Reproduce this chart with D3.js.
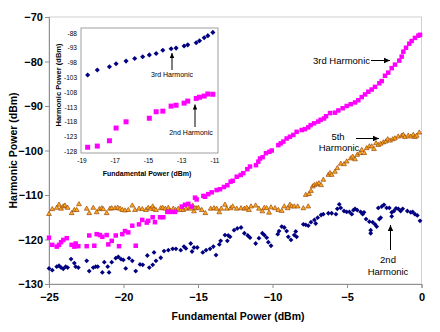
<!DOCTYPE html>
<html>
<head>
<meta charset="utf-8">
<script src="https://cdn.jsdelivr.net/npm/d3@7"></script>
<style>
  body { margin: 0; background: #fff; }
  text { font-family: "Liberation Sans", Arial, sans-serif; fill: #000; }
</style>
</head>
<body>
<div id="chart"></div>
<script>
// Main chart data: [fundamental dBm, harmonic dBm]
const secondHarmonic = [
  [-25.0,-126.5],[-24.78,-126.9],[-24.48,-126.1],[-24.33,-125.9],[-24.19,-126.3],[-24.04,-126.6],[-23.88,-126.1],[-23.75,-126.3],
  [-23.52,-124.4],[-23.30,-125.3],[-23.21,-126.1],[-23.03,-126.3],[-22.47,-124.8],[-22.30,-127.1],[-22.03,-126.3],[-21.87,-126.1],
  [-21.73,-126.1],[-21.42,-127.4],[-21.29,-125.1],[-21.06,-126.1],[-20.97,-127.4],[-20.79,-125.1],[-20.52,-124.2],[-20.35,-123.9],
  [-20.17,-124.4],[-20.01,-124.6],[-19.85,-126.5],[-19.63,-124.2],[-19.41,-124.8],[-19.18,-127.1],[-18.89,-125.6],[-18.71,-125.7],
  [-18.40,-123.6],[-18.27,-126.3],[-18.04,-125.7],[-17.95,-122.9],[-17.82,-124.8],[-17.50,-124.1],[-17.28,-122.6],[-16.99,-122.4],
  [-16.70,-122.1],[-16.48,-122.1],[-16.16,-122.4],[-15.94,-121.6],[-15.81,-122.0],[-15.49,-120.9],[-15.40,-122.7],[-15.27,-121.8],
  [-15.05,-121.8],[-14.68,-122.9],[-14.46,-122.4],[-14.19,-122.1],[-13.97,-121.6],[-13.79,-123.5],[-13.57,-121.1],[-13.48,-120.3],
  [-13.19,-119.0],[-13.03,-120.3],[-12.97,-119.1],[-12.85,-119.4],[-12.58,-117.9],[-12.36,-117.5],[-12.11,-117.3],[-11.89,-118.6],
  [-11.66,-119.1],[-11.51,-119.6],[-11.13,-120.9],[-10.91,-119.7],[-10.68,-118.6],[-10.55,-119.0],[-10.39,-119.6],[-10.28,-120.6],
  [-10.10,-121.4],[-9.65,-118.8],[-9.56,-118.1],[-9.38,-117.1],[-9.21,-117.3],[-9.05,-118.1],[-8.94,-119.4],[-8.76,-120.1],
  [-8.54,-119.0],[-8.44,-118.2],[-8.38,-119.4],[-7.93,-116.6],[-7.77,-116.7],[-7.60,-116.9],[-7.42,-116.1],[-7.19,-115.6],
  [-7.10,-116.4],[-6.97,-115.1],[-6.74,-114.5],[-6.59,-114.3],[-6.25,-114.1],[-6.03,-114.1],[-5.74,-114.3],[-5.65,-113.1],
  [-5.52,-112.1],[-5.42,-112.9],[-5.20,-113.6],[-5.02,-113.8],[-4.84,-113.8],[-4.68,-114.3],[-4.57,-113.4],[-4.46,-113.1],
  [-4.31,-113.4],[-4.08,-113.8],[-3.95,-114.3],[-3.86,-113.9],[-3.72,-115.4],[-3.50,-116.0],[-3.41,-117.9],[-3.41,-118.6],
  [-3.28,-116.1],[-3.12,-116.6],[-3.01,-117.1],[-2.83,-115.4],[-2.74,-115.1],[-2.90,-112.9],[-2.67,-112.6],[-2.52,-112.2],
  [-2.34,-112.9],[-2.16,-112.9],[-2.00,-114.8],[-2.00,-113.9],[-1.85,-113.6],[-1.71,-113.0],[-1.56,-113.1],[-1.40,-113.6],
  [-1.26,-113.1],[-0.95,-113.6],[-0.72,-113.9],[-0.59,-113.8],[-0.44,-114.3],[-0.28,-114.6],[-0.10,-115.8]
];

const thirdHarmonic = [
  [-25.0,-119.6],[-24.78,-121.2],[-24.48,-121.6],[-24.33,-121.2],[-24.19,-120.6],[-24.04,-120.1],[-23.81,-119.7],[-23.48,-121.2],
  [-23.30,-121.6],[-23.21,-120.9],[-23.03,-121.5],[-22.47,-121.5],[-22.30,-119.1],[-21.96,-121.4],[-21.80,-118.8],[-21.58,-119.0],
  [-21.42,-119.4],[-21.13,-119.0],[-21.02,-121.1],[-20.79,-120.3],[-20.52,-119.1],[-20.30,-121.5],[-20.08,-118.8],[-19.90,-118.1],
  [-19.68,-118.4],[-19.41,-116.9],[-19.18,-121.4],[-18.96,-116.6],[-18.74,-115.6],[-18.44,-116.2],[-18.34,-115.8],[-18.04,-115.0],
  [-17.89,-116.1],[-17.55,-115.0],[-17.33,-115.0],[-17.06,-113.8],[-16.83,-113.8],[-16.54,-113.8],[-16.09,-112.6],[-15.87,-112.2],
  [-15.65,-112.0],[-15.42,-112.6],[-15.20,-110.6],[-15.09,-111.0],[-14.64,-110.2],[-14.53,-110.4],[-14.31,-109.8],[-14.08,-109.4],
  [-13.75,-108.9],[-13.52,-108.7],[-13.26,-108.2],[-13.03,-107.8],[-12.81,-107.0],[-12.67,-106.8],[-12.40,-105.9],[-12.13,-105.5],
  [-11.96,-105.1],[-11.69,-104.2],[-11.51,-103.6],[-11.11,-103.3],[-10.95,-102.5],[-10.84,-101.8],[-10.66,-101.5],[-10.44,-100.6],
  [-10.21,-100.3],[-10.05,-100.0],[-9.61,-98.8],[-9.45,-98.4],[-9.27,-98.0],[-9.05,-97.3],[-8.83,-96.9],[-8.60,-96.5],
  [-8.38,-95.8],[-8.04,-95.4],[-7.82,-95.2],[-7.60,-94.8],[-7.44,-94.3],[-7.21,-93.9],[-6.93,-93.5],[-6.77,-93.1],
  [-6.54,-92.8],[-6.41,-92.3],[-6.14,-91.6],[-5.81,-91.5],[-5.58,-91.0],[-5.29,-90.5],[-5.02,-90.0],[-4.75,-89.6],
  [-4.46,-89.2],[-4.24,-88.7],[-4.01,-88.0],[-3.79,-87.4],[-3.57,-86.8],[-3.34,-86.3],[-3.12,-85.7],[-2.83,-84.9],
  [-2.67,-84.4],[-2.45,-83.2],[-2.23,-82.5],[-2.00,-81.5],[-1.78,-80.7],[-1.49,-79.8],[-1.33,-78.9],[-1.22,-77.8],
  [-1.04,-76.9],[-0.82,-76.0],[-0.66,-75.4],[-0.44,-74.7],[-0.21,-74.2],[-0.10,-74.0]
];

const fifthHarmonic = [
  [-25.0,-114.3],[-24.78,-113.2],[-24.48,-112.9],[-24.33,-112.2],[-24.19,-113.1],[-24.04,-112.6],[-23.93,-112.4],[-23.75,-112.9],
  [-23.48,-114.1],[-23.30,-113.4],[-23.14,-113.4],[-22.99,-112.1],[-22.47,-113.1],[-22.30,-114.1],[-22.03,-112.9],[-21.80,-113.9],
  [-21.62,-113.2],[-21.46,-113.0],[-21.36,-113.2],[-21.13,-114.1],[-20.91,-113.1],[-20.79,-113.0],[-20.57,-113.0],[-20.39,-112.9],
  [-20.23,-113.1],[-20.08,-113.4],[-19.90,-113.5],[-19.68,-113.4],[-19.41,-112.4],[-19.23,-113.4],[-18.96,-113.1],[-18.74,-113.2],
  [-18.49,-113.4],[-18.34,-112.9],[-18.18,-113.1],[-18.04,-112.6],[-17.95,-113.2],[-17.82,-113.4],[-17.50,-113.0],[-17.37,-112.9],
  [-17.19,-113.1],[-16.99,-112.9],[-16.88,-113.6],[-16.66,-113.1],[-16.50,-113.4],[-16.32,-113.1],[-16.16,-113.4],[-15.99,-113.4],
  [-15.81,-113.1],[-15.58,-112.9],[-15.49,-113.1],[-15.36,-112.4],[-15.27,-113.7],[-15.13,-113.0],[-14.98,-112.9],[-14.75,-113.4],
  [-14.51,-114.1],[-14.15,-113.1],[-13.93,-113.0],[-13.75,-113.1],[-13.57,-113.9],[-13.44,-113.1],[-13.19,-112.2],[-13.07,-113.1],
  [-12.81,-113.0],[-12.67,-112.6],[-12.40,-113.1],[-12.11,-113.0],[-11.89,-113.1],[-11.73,-112.9],[-11.58,-113.4],[-11.44,-112.6],
  [-11.13,-112.4],[-10.91,-113.1],[-10.68,-113.7],[-10.55,-112.9],[-10.39,-113.0],[-10.23,-114.0],[-10.10,-112.8],[-9.83,-113.0],
  [-9.61,-113.4],[-9.38,-113.6],[-9.21,-112.6],[-8.98,-113.0],[-8.83,-112.2],[-8.71,-112.6],[-8.54,-112.6],[-8.31,-112.6],
  [-7.93,-113.0],[-7.60,-112.6],[-7.77,-110.0],[-7.55,-109.8],[-7.42,-109.1],[-7.30,-108.1],[-7.19,-107.8],[-7.03,-107.6],
  [-6.88,-107.4],[-6.74,-107.8],[-6.59,-106.6],[-6.25,-105.5],[-6.14,-105.1],[-6.03,-105.5],[-5.81,-104.8],[-5.65,-104.0],
  [-5.42,-103.0],[-5.20,-103.1],[-5.02,-102.5],[-4.75,-101.8],[-4.62,-101.4],[-4.46,-102.0],[-4.31,-101.0],[-4.13,-100.6],
  [-4.01,-99.9],[-3.84,-100.6],[-3.68,-99.5],[-3.50,-99.1],[-3.34,-99.1],[-3.19,-99.7],[-3.05,-98.4],[-2.90,-98.8],
  [-2.74,-98.5],[-2.56,-98.2],[-2.40,-98.0],[-2.27,-97.5],[-2.11,-97.8],[-1.93,-97.5],[-1.78,-97.3],[-1.56,-96.9],
  [-1.33,-96.7],[-1.22,-96.5],[-1.11,-97.0],[-0.89,-96.7],[-0.72,-96.9],[-0.55,-96.5],[-0.44,-97.0],[-0.32,-96.7],[-0.15,-96.0]
];

// Inset data
const insetX = [-18.66,-18.08,-17.35,-16.95,-16.35,-15.83,-15.35,-14.95,-14.54,-14.14,-13.64,-13.34,-12.86,-12.64,-12.13,-11.93,-11.65,-11.43,-11.13];
const insetThird = [-102.1,-100.4,-99.3,-98.3,-97.4,-96.5,-95.9,-95.3,-94.8,-93.7,-93.2,-93.0,-92.3,-91.9,-91.2,-90.5,-89.5,-88.8,-87.7];
const insetSecondX = [-18.66,-18.08,-17.35,-16.95,-16.35,-14.95,-14.54,-14.14,-13.64,-13.34,-12.86,-12.64,-12.13,-11.93,-11.65,-11.43,-11.13];
const insetSecond = [-126.5,-126.1,-124.3,-120.0,-117.9,-116.7,-114.5,-114.3,-112.6,-112.3,-111.6,-110.9,-110.0,-109.6,-109.2,-108.5,-108.6];

// Tick labels
const mainXTicks = [-25, -20, -15, -10, -5, 0];
const mainYTicks = [-70, -80, -90, -100, -110, -120, -130];
const insetXTicks = [-19, -17, -15, -13, -11];
const insetYTicks = [-88, -93, -98, -103, -108, -113, -118, -123, -128];

const colors = { second: "#000080", third: "#ff00ff", fifthFill: "#ffa81a", fifthStroke: "#9a4a10" };

const W = 440, H = 332;
const svg = d3.select("#chart").append("svg").attr("width", W).attr("height", H);

// ---------- main plot ----------
const plot = { left: 49, right: 421.5, top: 17, bottom: 284 };
const x = d3.scaleLinear().domain([-25, 0]).range([plot.left, plot.right]);
const y = d3.scaleLinear().domain([-130, -70]).range([plot.bottom, plot.top]);

// plot area border
svg.append("rect")
  .attr("x", plot.left).attr("y", plot.top)
  .attr("width", plot.right - plot.left).attr("height", plot.bottom - plot.top)
  .attr("fill", "none").attr("stroke", "#d0d0d0").attr("stroke-width", 1);

const xAxis = svg.append("g")
  .attr("transform", `translate(0,${plot.bottom})`)
  .call(d3.axisBottom(x).tickValues(mainXTicks).tickSize(4).tickFormat(d3.format("d")));
const yAxis = svg.append("g")
  .attr("transform", `translate(${plot.left},0)`)
  .call(d3.axisLeft(y).tickValues(mainYTicks).tickSize(4).tickFormat(d3.format("d")));

[xAxis, yAxis].forEach(g => {
  g.select(".domain").attr("stroke", "#909090");
  g.selectAll(".tick line").attr("stroke", "#909090");
  g.selectAll("text").attr("font-size", 11).attr("font-weight", "bold")
    .attr("font-family", "Liberation Sans, Arial, sans-serif").attr("fill", "#000");
});
xAxis.selectAll("text").attr("dy", "0.95em");
yAxis.selectAll("text").attr("x", -6);

svg.append("text")
  .attr("x", 238).attr("y", 320)
  .attr("text-anchor", "middle").attr("font-size", 10.5).attr("font-weight", "bold")
  .text("Fundamental Power (dBm)");
svg.append("text")
  .attr("transform", `translate(17,${(plot.top + plot.bottom) / 2}) rotate(-90)`)
  .attr("text-anchor", "middle").attr("font-size", 10.5).attr("font-weight", "bold")
  .text("Harmonic Power (dBm)");

const diamond = s => d3.symbol().type(d3.symbolSquare).size(s * s)();
const square = s => d3.symbol().type(d3.symbolSquare).size(s * s)();
const triangle = s => d3.symbol().type(d3.symbolTriangle).size(s)();

svg.append("g").selectAll("path")
  .data(fifthHarmonic).join("path")
  .attr("d", triangle(10))
  .attr("transform", d => `translate(${x(d[0])},${y(d[1])})`)
  .attr("fill", colors.fifthFill).attr("stroke", colors.fifthStroke).attr("stroke-width", 0.7);

svg.append("g").selectAll("path")
  .data(thirdHarmonic).join("path")
  .attr("d", square(4.5))
  .attr("transform", d => `translate(${x(d[0])},${y(d[1])})`)
  .attr("fill", colors.third);

svg.append("g").selectAll("path")
  .data(secondHarmonic).join("path")
  .attr("d", diamond(3.4))
  .attr("transform", d => `translate(${x(d[0])},${y(d[1])}) rotate(45)`)
  .attr("fill", colors.second);

// main annotations
function arrow(g, x1, y1, x2, y2, head) {
  const a = Math.atan2(y2 - y1, x2 - x1);
  g.append("line").attr("x1", x1).attr("y1", y1).attr("x2", x2).attr("y2", y2)
    .attr("stroke", "#000").attr("stroke-width", 1);
  const p = [[x2, y2],
    [x2 - head * Math.cos(a) + head * 0.45 * Math.sin(a), y2 - head * Math.sin(a) - head * 0.45 * Math.cos(a)],
    [x2 - head * Math.cos(a) - head * 0.45 * Math.sin(a), y2 - head * Math.sin(a) + head * 0.45 * Math.cos(a)]];
  g.append("path").attr("d", d3.line()(p) + "Z").attr("fill", "#000");
}
const ann = svg.append("g");
ann.append("text").attr("x", 313).attr("y", 64).attr("font-size", 9.5).text("3rd Harmonic");
arrow(ann, 371, 60.5, 390, 60.5, 6);
ann.append("text").attr("x", 338).attr("y", 140).attr("text-anchor", "middle").attr("font-size", 9.5).text("5th");
ann.append("text").attr("x", 339).attr("y", 151).attr("text-anchor", "middle").attr("font-size", 9.5).text("Harmonic");
arrow(ann, 356, 138.5, 379, 138.5, 6);
ann.append("text").attr("x", 388).attr("y", 263).attr("text-anchor", "middle").attr("font-size", 9.5).text("2nd");
ann.append("text").attr("x", 388).attr("y", 274.5).attr("text-anchor", "middle").attr("font-size", 9.5).text("Harmonic");
arrow(ann, 390.5, 250, 390.5, 225, 6);

// ---------- inset ----------
const inset = svg.append("g");
inset.append("rect").attr("x", 54).attr("y", 22).attr("width", 172).attr("height", 160).attr("fill", "#fff");
const ix = d3.scaleLinear().domain([-19, -11]).range([82, 215]);
const iy = d3.scaleLinear().domain([-128, -88]).range([151.7, 33.3]);
inset.append("rect").attr("x", 81).attr("y", 28).attr("width", 137).attr("height", 125)
  .attr("fill", "none").attr("stroke", "#888").attr("stroke-width", 0.8);

inset.selectAll(".ixt").data(insetXTicks).join("text")
  .attr("x", d => ix(d)).attr("y", 163).attr("text-anchor", "middle").attr("font-size", 6.5).text(d => d);
inset.selectAll(".iyt").data(insetYTicks).join("text")
  .attr("x", 77).attr("y", d => iy(d) + 2.3).attr("text-anchor", "end").attr("font-size", 6.5).text(d => d);
inset.append("text").attr("x", 147).attr("y", 176).attr("text-anchor", "middle")
  .attr("font-size", 7).attr("font-weight", "bold").text("Fundamental Power (dBm)");
inset.append("text").attr("transform", "translate(61,85) rotate(-90)").attr("text-anchor", "middle")
  .attr("font-size", 7.5).attr("font-weight", "bold").text("Harmonic Power (dBm)");

inset.selectAll(".i3").data(insetX.map((v, i) => [v, insetThird[i]])).join("path")
  .attr("d", diamond(3.6))
  .attr("transform", d => `translate(${ix(d[0])},${iy(d[1])}) rotate(45)`)
  .attr("fill", colors.second);
inset.selectAll(".i2").data(insetSecondX.map((v, i) => [v, insetSecond[i]])).join("path")
  .attr("d", square(5))
  .attr("transform", d => `translate(${ix(d[0])},${iy(d[1])})`)
  .attr("fill", colors.third);

inset.append("text").attr("x", 172).attr("y", 77).attr("text-anchor", "middle").attr("font-size", 7).text("3rd Harmonic");
arrow(inset, 172, 70, 172, 53, 5);
inset.append("text").attr("x", 191).attr("y", 134.5).attr("text-anchor", "middle").attr("font-size", 7).text("2nd Harmonic");
arrow(inset, 195, 127, 195, 104.5, 5);
</script>
</body>
</html>
